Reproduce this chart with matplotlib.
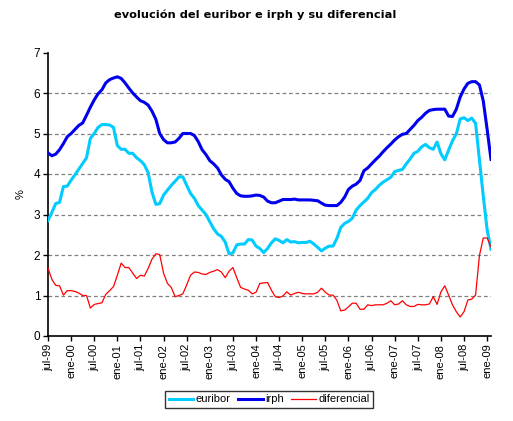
import matplotlib.pyplot as plt
import numpy as np

plt.rcParams['font.family'] = ['Liberation Sans', 'DejaVu Sans']

# datos mensuales jul-99 ... feb-09
euribor = [2.85, 3.05, 3.27, 3.30, 3.69, 3.70, 3.85, 3.98, 4.12, 4.26,
           4.40, 4.88, 5.00, 5.15, 5.22, 5.22, 5.21, 5.15, 4.70, 4.61,
           4.61, 4.51, 4.51, 4.40, 4.33, 4.23, 4.03, 3.55, 3.25, 3.27,
           3.48, 3.60, 3.72, 3.82, 3.93, 3.93, 3.72, 3.52, 3.40, 3.22,
           3.11, 3.00, 2.82, 2.65, 2.52, 2.46, 2.32, 2.03, 2.05, 2.25,
           2.27, 2.27, 2.38, 2.37, 2.22, 2.16, 2.06, 2.16, 2.30, 2.40,
           2.36, 2.30, 2.38, 2.32, 2.33, 2.30, 2.31, 2.31, 2.34, 2.27,
           2.19, 2.10, 2.17, 2.22, 2.22, 2.41, 2.68, 2.78, 2.83, 2.91,
           3.11, 3.22, 3.31, 3.40, 3.54, 3.62, 3.72, 3.80, 3.86, 3.92,
           4.06, 4.09, 4.11, 4.25, 4.37, 4.51, 4.56, 4.67, 4.73, 4.65,
           4.61, 4.79, 4.50, 4.35, 4.59, 4.82, 4.99, 5.36, 5.39, 5.32,
           5.38, 5.25, 4.35, 3.45, 2.62, 2.14]

irph = [4.52, 4.45, 4.49, 4.60, 4.75, 4.92, 5.00, 5.10, 5.20, 5.26,
        5.45, 5.65, 5.83, 5.98, 6.08, 6.25, 6.33, 6.37, 6.40, 6.36,
        6.25, 6.12, 6.00, 5.90, 5.81, 5.77, 5.70, 5.55, 5.35, 5.00,
        4.85, 4.77, 4.77, 4.79, 4.88, 5.00, 5.00, 5.00, 4.95, 4.80,
        4.60, 4.48, 4.33, 4.25, 4.15, 3.98, 3.87, 3.81, 3.65, 3.52,
        3.46, 3.45, 3.45, 3.46, 3.48, 3.47, 3.43, 3.33, 3.29, 3.29,
        3.33, 3.37, 3.37, 3.37, 3.38, 3.36, 3.36, 3.36, 3.36, 3.35,
        3.34, 3.28, 3.23, 3.22, 3.22, 3.22, 3.30, 3.43, 3.62, 3.70,
        3.75, 3.84, 4.08, 4.15, 4.25, 4.35, 4.44, 4.55, 4.65, 4.74,
        4.84, 4.92, 4.98, 5.00, 5.10, 5.20, 5.32, 5.40, 5.50, 5.57,
        5.59, 5.60, 5.60, 5.60, 5.43, 5.42, 5.60, 5.90, 6.10, 6.24,
        6.28, 6.28, 6.20, 5.80, 5.10, 4.36]

diferencial = [1.68, 1.40, 1.25, 1.24, 1.01, 1.12, 1.12, 1.10, 1.06, 1.00,
               1.00, 0.69, 0.78, 0.80, 0.82, 1.03, 1.12, 1.22, 1.50, 1.80,
               1.69, 1.69, 1.55, 1.42, 1.50, 1.48, 1.67, 1.90, 2.03, 2.01,
               1.55, 1.30, 1.20, 0.97, 1.00, 1.04, 1.26, 1.50, 1.58, 1.57,
               1.53, 1.52, 1.57, 1.60, 1.64, 1.58, 1.44, 1.60, 1.69, 1.44,
               1.20, 1.16, 1.13, 1.04, 1.08, 1.30, 1.31, 1.32, 1.13, 0.97,
               0.95, 0.99, 1.09, 1.01, 1.05, 1.08, 1.05, 1.04, 1.04, 1.04,
               1.08, 1.18, 1.08, 1.01, 1.01, 0.88, 0.62, 0.64, 0.72, 0.81,
               0.81, 0.66, 0.66, 0.77, 0.75, 0.77, 0.77, 0.77, 0.81, 0.87,
               0.77, 0.79, 0.87, 0.77, 0.73, 0.73, 0.78, 0.77, 0.77, 0.79,
               0.97, 0.78, 1.09, 1.24, 1.01, 0.77, 0.60, 0.47, 0.60, 0.89,
               0.91, 1.01, 1.99, 2.42, 2.42, 2.20]

etiquetas = ['jul-99', 'ene-00', 'jul-00', 'ene-01', 'jul-01', 'ene-02',
             'jul-02', 'ene-03', 'jul-03', 'ene-04', 'jul-04', 'ene-05',
             'jul-05', 'ene-06', 'jul-06', 'ene-07', 'jul-07', 'ene-08',
             'jul-08', 'ene-09']

x = np.arange(len(euribor))

fig = plt.figure(figsize=(5.13, 4.21), dpi=100)
ax = fig.add_axes([48 / 513, 1 - 336 / 421, 443 / 513, 283.5 / 421])

# líneas de división horizontales (sin la de 7)
for v in range(1, 7):
    ax.axhline(v, color='#808080', linestyle=(0, (3, 2.2)), linewidth=0.9, zorder=1)

ax.plot(x, euribor, color='#00CCFF', linewidth=2.2, label='euribor', zorder=3)
ax.plot(x, irph, color='#0000EE', linewidth=2.2, label='irph', zorder=3)
ax.plot(x, diferencial, color='#FF0000', linewidth=0.9, label='diferencial', zorder=4)

ax.set_xlim(0, len(euribor) - 1)
ax.set_ylim(0, 7)
ax.set_yticks(range(0, 8))
ax.set_xticks(np.arange(0, len(euribor), 6))
ax.set_xticklabels(etiquetas, rotation=90)

for s in ['top', 'right']:
    ax.spines[s].set_visible(False)
ax.spines['left'].set_linewidth(1.2)
ax.spines['bottom'].set_linewidth(1.2)
ax.tick_params(axis='both', direction='out', length=3.5, width=1, labelsize=8, pad=2)
ax.tick_params(axis='y', labelsize=8.5)

ax.set_ylabel('%', fontsize=8, labelpad=6)

fig.text(0.497, 1 - 15 / 421, 'evolución del euribor e irph y su diferencial',
         ha='center', va='center', fontsize=8.2, fontweight='bold', family='DejaVu Sans')

leg = fig.legend(loc='center', bbox_to_anchor=(269 / 513, 1 - 399.5 / 421), ncol=3,
                 fontsize=8, frameon=True, fancybox=False, handlelength=2.2,
                 handletextpad=0.2, columnspacing=0.7, borderpad=0.3)
leg.get_frame().set_edgecolor('black')
leg.get_frame().set_linewidth(1.0)

fig.savefig('out.png', dpi=100)
